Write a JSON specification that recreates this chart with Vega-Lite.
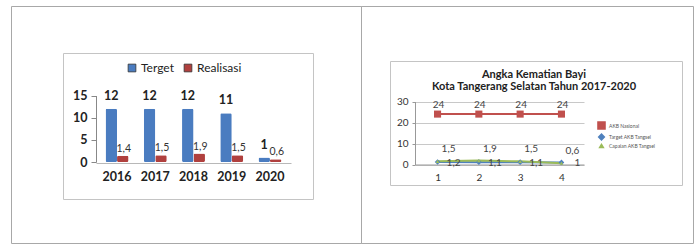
{
  "$schema": "https://vega.github.io/schema/vega-lite/v6.json",
  "padding": {"left": 10, "top": 5, "right": 0, "bottom": 0},
  "background": "white",
  "spacing": 0,
  "bounds": "flush",
  "resolve": {"scale": {"color": "independent", "shape": "independent", "size": "independent", "x": "independent", "y": "independent", "xOffset": "independent"}, "legend": {"color": "independent", "shape": "independent", "size": "independent"}},
  "config": {
    "locale": {"number": {"decimal": ",", "thousands": ".", "grouping": [3], "currency": ["Rp", ""]}},
    "font": "Lato",
    "axis": {"labelFont": "Lato"},
    "legend": {"labelFont": "Lato"},
    "title": {"font": "Lato"}
  },
  "hconcat": [
    {
      "width": 350,
      "height": 237,
      "view": {"stroke": "#a8a8a8", "strokeWidth": 1},
      "data": {"values": [
        {"year": "2016", "series": "Terget", "value": 12},
        {"year": "2016", "series": "Realisasi", "value": 1.4},
        {"year": "2017", "series": "Terget", "value": 12},
        {"year": "2017", "series": "Realisasi", "value": 1.5},
        {"year": "2018", "series": "Terget", "value": 12},
        {"year": "2018", "series": "Realisasi", "value": 1.9},
        {"year": "2019", "series": "Terget", "value": 11},
        {"year": "2019", "series": "Realisasi", "value": 1.5},
        {"year": "2020", "series": "Terget", "value": 1},
        {"year": "2020", "series": "Realisasi", "value": 0.6}
      ]},
      "layer": [
        {
          "layer": [
            {
              "mark": {"type": "bar", "cornerRadius": 1.5},
              "encoding": {
                "x": {"field": "year", "type": "ordinal",
                  "scale": {"type": "band", "range": [85, 280], "paddingInner": 0.4, "paddingOuter": 0.25},
                  "axis": {"orient": "bottom", "offset": -80, "title": null, "labelAngle": 0, "ticks": false, "grid": false,
                    "domainColor": "#b8b8b8", "labelFontSize": 12.5, "labelFontWeight": "bold", "labelColor": "#222", "labelPadding": 7}},
                "xOffset": {"field": "series", "type": "nominal", "scale": {"domain": ["Terget", "Realisasi"]}},
                "y": {"field": "value", "type": "quantitative",
                  "scale": {"domain": [0, 15], "range": [156, 89.5], "nice": false},
                  "axis": {"orient": "left", "offset": -85, "title": null, "values": [0, 5, 10, 15], "grid": false,
                    "domainColor": "#888", "tickColor": "#888", "tickSize": 5, "labelPadding": 4,
                    "labelFontSize": 12.5, "labelFontWeight": "bold", "labelColor": "#222"}},
                "color": {"field": "series", "type": "nominal",
                  "scale": {"domain": ["Terget", "Realisasi"], "range": ["#4a7cc0", "#b0403e"]},
                  "legend": {"orient": "none", "legendX": 115, "legendY": 56, "direction": "horizontal", "title": null,
                    "symbolType": "square", "symbolSize": 60, "symbolStrokeColor": "#333", "symbolStrokeWidth": 0.8,
                    "labelFontSize": 12, "labelColor": "#222", "columnPadding": 8, "labelOffset": 3}}
              }
            },
            {
              "transform": [{"filter": "datum.series == 'Terget'"}],
              "mark": {"type": "text", "baseline": "bottom", "dy": -6, "fontSize": 12.5, "fontWeight": "bold", "color": "#222"},
              "encoding": {
                "x": {"field": "year", "type": "ordinal"},
                "xOffset": {"field": "series", "type": "nominal"},
                "y": {"field": "value", "type": "quantitative"},
                "text": {"field": "value", "type": "quantitative", "format": "~g"}
              }
            },
            {
              "transform": [{"filter": "datum.series == 'Realisasi'"}],
              "mark": {"type": "text", "baseline": "bottom", "dy": -2, "dx": 1, "fontSize": 10.5, "color": "#333"},
              "encoding": {
                "x": {"field": "year", "type": "ordinal"},
                "xOffset": {"field": "series", "type": "nominal"},
                "y": {"field": "value", "type": "quantitative"},
                "text": {"field": "value", "type": "quantitative", "format": "~g"}
              }
            }
          ]
        },
        {
          "mark": {"type": "point", "opacity": 0},
          "encoding": {
            "x": {"field": "year", "type": "ordinal", "scale": {"type": "point", "range": [52, 302]},
              "axis": {"orient": "bottom", "offset": -44, "labels": false, "ticks": false, "grid": false, "title": null, "domainColor": "#c4c4c4"}},
            "y": {"field": "value", "type": "quantitative", "scale": {"range": [193, 47]},
              "axis": {"orient": "left", "offset": -52, "labels": false, "ticks": false, "grid": false, "title": null, "domainColor": "#c4c4c4"}}
          }
        },
        {
          "mark": {"type": "point", "opacity": 0},
          "encoding": {
            "x": {"field": "year", "type": "ordinal", "scale": {"type": "point", "range": [52, 302]},
              "axis": {"orient": "top", "offset": -47, "labels": false, "ticks": false, "grid": false, "title": null, "domainColor": "#c4c4c4"}},
            "y": {"field": "value", "type": "quantitative", "scale": {"range": [193, 47]},
              "axis": {"orient": "right", "offset": -48, "labels": false, "ticks": false, "grid": false, "title": null, "domainColor": "#c4c4c4"}}
          }
        }
      ],
      "resolve": {"scale": {"x": "independent", "y": "independent"}, "axis": {"x": "independent", "y": "independent"}}
    },
    {
      "width": 332,
      "height": 237,
      "view": {"stroke": "#a8a8a8", "strokeWidth": 1},
      "title": {"text": ["Angka Kematian Bayi", "Kota Tangerang Selatan Tahun 2017-2020"], "anchor": "middle", "frame": "group",
        "offset": -86, "dx": 7, "fontSize": 11, "fontWeight": "bold", "color": "#222", "lineHeight": 12},
      "data": {"values": [
        {"x": "1", "series": "AKB Nasional", "value": 24},
        {"x": "2", "series": "AKB Nasional", "value": 24},
        {"x": "3", "series": "AKB Nasional", "value": 24},
        {"x": "4", "series": "AKB Nasional", "value": 24},
        {"x": "1", "series": "Target AKB Tangsel", "value": 1.2},
        {"x": "2", "series": "Target AKB Tangsel", "value": 1.1},
        {"x": "3", "series": "Target AKB Tangsel", "value": 1.1},
        {"x": "4", "series": "Target AKB Tangsel", "value": 1},
        {"x": "1", "series": "Capaian AKB Tangsel", "value": 1.5},
        {"x": "2", "series": "Capaian AKB Tangsel", "value": 1.9},
        {"x": "3", "series": "Capaian AKB Tangsel", "value": 1.5},
        {"x": "4", "series": "Capaian AKB Tangsel", "value": 0.6}
      ]},
      "layer": [
        {
          "layer": [
            {
              "mark": {"type": "line", "strokeWidth": 2},
              "encoding": {
                "x": {"field": "x", "type": "ordinal",
                  "scale": {"type": "point", "range": [54, 223], "padding": 0.546},
                  "axis": {"orient": "bottom", "offset": -78.5, "title": null, "labelAngle": 0, "ticks": false, "grid": false,
                    "domainColor": "#999", "labelFontSize": 10, "labelColor": "#333", "labelPadding": 8}},
                "y": {"field": "value", "type": "quantitative",
                  "scale": {"domain": [0, 30], "range": [158.5, 95.5], "nice": false},
                  "axis": {"orient": "left", "offset": -54, "title": null, "values": [0, 10, 20, 30], "grid": true, "gridColor": "#c8c8c8",
                    "domainColor": "#999", "tickColor": "#999", "tickSize": 3, "labelPadding": 4, "labelFontSize": 10, "labelColor": "#333"}},
                "color": {"field": "series", "type": "nominal",
                  "scale": {"domain": ["AKB Nasional", "Target AKB Tangsel", "Capaian AKB Tangsel"], "range": ["#c0504d", "#4f81bd", "#9bbb59"]},
                  "legend": {"orient": "none", "legendX": 236, "legendY": 115, "title": null, "symbolType": "stroke", "symbolSize": 200,
                    "symbolStrokeWidth": 1.5, "labelFontSize": 5, "labelColor": "#555", "rowPadding": -2, "labelOffset": 3}}
              }
            },
            {
              "mark": {"type": "point", "filled": true, "opacity": 1},
              "encoding": {
                "x": {"field": "x", "type": "ordinal"},
                "y": {"field": "value", "type": "quantitative"},
                "color": {"field": "series", "type": "nominal"},
                "shape": {"field": "series", "type": "nominal",
                  "scale": {"domain": ["AKB Nasional", "Target AKB Tangsel", "Capaian AKB Tangsel"], "range": ["square", "diamond", "triangle-up"]},
                  "legend": null},
                "size": {"field": "series", "type": "ordinal",
                  "scale": {"domain": ["AKB Nasional", "Target AKB Tangsel", "Capaian AKB Tangsel"], "range": [50, 14, 36]},
                  "legend": null}
              }
            },
            {
              "transform": [{"filter": "datum.series == 'AKB Nasional'"}],
              "mark": {"type": "text", "baseline": "bottom", "dy": -4, "dx": 1, "fontSize": 10, "color": "#444"},
              "encoding": {
                "x": {"field": "x", "type": "ordinal"},
                "y": {"field": "value", "type": "quantitative"},
                "text": {"field": "value", "type": "quantitative", "format": "~g"}
              }
            },
            {
              "transform": [{"filter": "datum.series == 'Capaian AKB Tangsel'"}],
              "mark": {"type": "text", "baseline": "bottom", "dy": -7, "dx": 11, "fontSize": 10, "color": "#444"},
              "encoding": {
                "x": {"field": "x", "type": "ordinal"},
                "y": {"field": "value", "type": "quantitative"},
                "text": {"field": "value", "type": "quantitative", "format": "~g"}
              }
            },
            {
              "transform": [{"filter": "datum.series == 'Target AKB Tangsel'"}],
              "mark": {"type": "text", "baseline": "middle", "dy": 1, "dx": 16, "fontSize": 10, "color": "#444"},
              "encoding": {
                "x": {"field": "x", "type": "ordinal"},
                "y": {"field": "value", "type": "quantitative"},
                "text": {"field": "value", "type": "quantitative", "format": "~g"}
              }
            }
          ]
        },
        {
          "mark": {"type": "point", "opacity": 0},
          "encoding": {
            "x": {"field": "x", "type": "ordinal", "scale": {"type": "point", "range": [29, 321]},
              "axis": {"orient": "bottom", "offset": -58, "labels": false, "ticks": false, "grid": false, "title": null, "domainColor": "#c4c4c4"}},
            "y": {"field": "value", "type": "quantitative", "scale": {"range": [179, 55]},
              "axis": {"orient": "left", "offset": -29, "labels": false, "ticks": false, "grid": false, "title": null, "domainColor": "#c4c4c4"}}
          }
        },
        {
          "mark": {"type": "point", "opacity": 0},
          "encoding": {
            "x": {"field": "x", "type": "ordinal", "scale": {"type": "point", "range": [29, 321]},
              "axis": {"orient": "top", "offset": -55, "labels": false, "ticks": false, "grid": false, "title": null, "domainColor": "#c4c4c4"}},
            "y": {"field": "value", "type": "quantitative", "scale": {"range": [179, 55]},
              "axis": {"orient": "right", "offset": -11, "labels": false, "ticks": false, "grid": false, "title": null, "domainColor": "#c4c4c4"}}
          }
        }
      ],
      "resolve": {"scale": {"x": "independent", "y": "independent"}, "axis": {"x": "independent", "y": "independent"}}
    }
  ]
}
